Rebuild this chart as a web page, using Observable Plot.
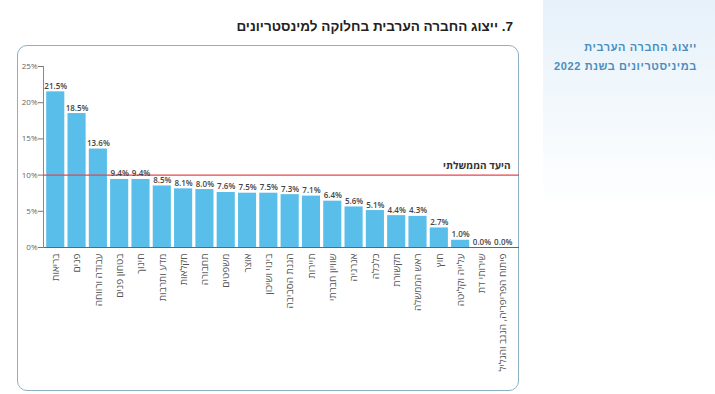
<!DOCTYPE html>
<html><head><meta charset="utf-8">
<script src="https://cdn.jsdelivr.net/npm/d3@7"></script>
<script src="https://cdn.jsdelivr.net/npm/@observablehq/plot@0.6"></script>
<style>
html,body{margin:0;padding:0;background:#fff;}
#page{position:relative;width:715px;height:394px;overflow:hidden;font-family:"Liberation Sans","DejaVu Sans",sans-serif;}
#side{position:absolute;left:543px;top:0;width:172px;height:210px;background:linear-gradient(#e6f1fa,#ffffff);}
#sideText{position:absolute;right:18px;top:38px;direction:rtl;text-align:right;color:#4a8dbf;font-weight:bold;font-size:11px;line-height:19px;letter-spacing:0.6px;}
#title{position:absolute;right:202px;top:19px;direction:rtl;text-align:right;font-weight:bold;font-size:13.5px;color:#222;white-space:nowrap;}
#box{position:absolute;left:17px;top:45px;width:500px;height:344px;border:1.3px solid #8fb0c2;border-radius:10px;}
#chart{position:absolute;left:17px;top:46px;}
</style></head>
<body><div id="page">
<div id="side"><div id="sideText">ייצוג החברה הערבית<br>במיניסטריונים בשנת 2022</div></div>
<div id="title">7. ייצוג החברה הערבית בחלוקה למינסטריונים</div>
<div id="box"></div>
<div id="chart"></div>
</div>
<script>
const ministries = ["בריאות","פנים","עבודה ורווחה","בטחון פנים","חינוך","מדע ותרבות","חקלאות","תחבורה","משפטים","אוצר","בינוי ושיכון","הגנת הסביבה","תיירות","שוויון חברתי","אנרגיה","כלכלה","תקשורת","ראש הממשלה","חוץ","עלייה וקליטה","שירותי דת","פיתוח הפריפריה, הנגב והגליל"];
const shares = [21.5,18.5,13.6,9.4,9.4,8.5,8.1,8.0,7.6,7.5,7.5,7.3,7.1,6.4,5.6,5.1,4.4,4.3,2.7,1.0,0.0,0.0];
const yTicks = [0,5,10,15,20,25];
const targetValue = 10;
const targetLabel = "היעד הממשלתי";

const data = ministries.map((name,i)=>({name, value: shares[i]}));

const chart = Plot.plot({
  width: 502, height: 343,
  marginLeft: 26, marginRight: 0, marginTop: 20, marginBottom: 142,
  style: {fontFamily: '"Open Sans","Liberation Sans","DejaVu Sans",sans-serif', background: "transparent"},
  x: {domain: ministries, range: [26, 498], padding: 0.15, round: false, label: null},
  y: {domain: [0, 25], range: [201, 20], label: null},
  marks: [
    Plot.barY(data, {x: "name", y: "value", fill: "#59bee9"}),
    Plot.ruleY([0], {stroke: "#666", strokeWidth: 1}),
    Plot.frame({anchor: "left", stroke: "#888"}),
    Plot.ruleY([targetValue], {stroke: "#e8434f", strokeWidth: 1.2}),
    Plot.text([targetValue], {y: d => d, frameAnchor: "right", text: () => targetLabel, textAnchor: "end", dx: -9, dy: -9, fontSize: 10, fontWeight: "bold", fill: "#333"}),
    Plot.text(data, {x: "name", y: "value", text: d => d.value.toFixed(1) + "%", lineAnchor: "bottom", dy: -3, fontSize: 8, fontWeight: 600, fill: "#444"}),
    Plot.axisY({ticks: yTicks, tickFormat: d => d + "%", tickSize: 5, tickPadding: 1, fontSize: 8, stroke: "#777", fill: "#666", label: null}),
    Plot.axisX({tickRotate: -90, tickSize: 0, tickPadding: 6, fontSize: 10, fill: "#555", label: null})
  ]
});
document.getElementById("chart").appendChild(chart);
</script>
</body></html>
